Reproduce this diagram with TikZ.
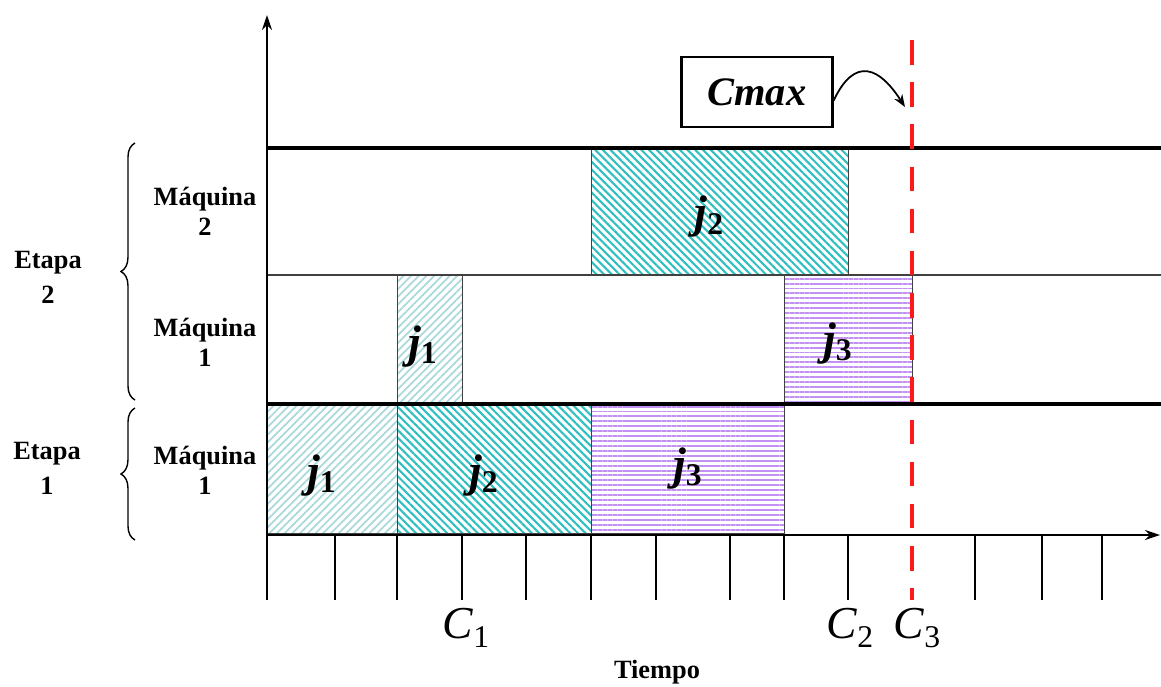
\documentclass[tikz,border=0pt]{standalone}
\usepackage{fontspec}
\setmainfont{Liberation Serif}
\usetikzlibrary{arrows.meta, decorations.pathreplacing, patterns.meta}
\definecolor{JobOne}{HTML}{A9D9DC}
\definecolor{JobTwo}{HTML}{2FBFC0}
\definecolor{JobThree}{HTML}{C291F2}
\definecolor{CmaxRed}{HTML}{FF1A1A}
\definecolor{Edge}{HTML}{404040}

\newcommand{\jlab}[1]{{\bfseries\itshape j}\raisebox{-0.3ex}{\bfseries\fontsize{18}{19}\selectfont #1}}
\newcommand{\clab}[1]{{\itshape C}\raisebox{-0.4ex}{\fontsize{18}{20}\selectfont #1}}

\begin{document}
\begin{tikzpicture}[
    x=0.02cm, y=-0.02cm,
    lbl/.style={font=\fontsize{15}{17}\selectfont\bfseries, align=center},
    etapa/.style={font=\fontsize{15}{20}\selectfont\bfseries, align=center},
    jtxt/.style={font=\fontsize{26}{28}\selectfont},
    ctxt/.style={font=\fontsize{26}{28}\selectfont},
    jobone/.style={draw=Edge, pattern={Lines[angle=45, distance=3.1pt, line width=1pt]},
        pattern color=JobOne},
    jobtwo/.style={draw=Edge, pattern={Lines[angle=-45, distance=3.1pt, line width=1.2pt]},
        pattern color=JobTwo},
    jobthree/.style={draw=Edge, pattern={Lines[angle=0, distance=2.8pt, line width=1.1pt]},
        pattern color=JobThree},
    axis/.style={line width=1.1pt, -{Stealth[length=3mm, width=2mm]}},
    tick/.style={line width=0.9pt},
    brc/.style={decorate, decoration={brace, amplitude=8pt}, line width=0.8pt},
    arr/.style={-{Stealth[length=2.5mm]}, line width=1pt},
]
\useasboundingbox (0,0) rectangle (1161,687);

% === Jobs, etapa 1 ===
\draw[jobone] (267,404) rectangle (397,533) node[midway, jtxt, xshift=-6pt, yshift=-4pt] (e1j1) {\jlab{1}};
\draw[jobtwo] (397,404) rectangle (591,533) node[midway, jtxt, xshift=-6pt, yshift=-4pt] (e1j2) {\jlab{2}};
\draw[jobthree] (591,404) rectangle (784,533) node[midway, jtxt] (e1j3) {\jlab{3}};

% === Jobs, etapa 2 ===
\draw[jobone] (397,275) rectangle (462,404) node[midway, jtxt, xshift=-4pt, yshift=-4pt] (e2j1) {\jlab{1}};
\draw[jobthree] (784,275) rectangle (912,404) node[midway, jtxt, xshift=-6pt, yshift=-2pt] (e2j3) {\jlab{3}};
\draw[jobtwo] (591,148) rectangle (848,275) node[midway, jtxt, xshift=-6pt, yshift=-3pt] (e2j2) {\jlab{2}};

% === Machine rows ===
\draw[line width=1.8pt] (267,148) -- (1161,148);
\draw[line width=0.8pt, Edge] (267,275) -- (1161,275);
\draw[line width=1.8pt] (267,404) -- (1161,404);

% === Axes and ticks ===
\draw[axis] (267,600) -- (267,15);
\draw[axis] (267,535) -- (1160,535);
\foreach \t in {335,397,462,526,591,656,730,784,848,975,1042,1102}
    \draw[tick] (\t,535) -- (\t,600);

\node[ctxt] (c1) at (466,628) {\clab{1}};
\node[ctxt] (c2) at (850,628) {\clab{2}};
\node[ctxt] (c3) at (917,628) {\clab{3}};
\node[lbl] (tiempo) at (657,672) {Tiempo};

% === Cmax ===
\coordinate (ctop) at (912,40);
\coordinate (cbot) at (912,600);
\draw[CmaxRed, line width=2.8pt, dash pattern=on 14pt off 10pt] (ctop) -- (cbot);

\node[draw, line width=1.2pt, minimum width=3.02cm, minimum height=1.4cm,
    font=\fontsize{23}{25}\selectfont\bfseries\itshape] (cmax) at (757,92) {Cmax};
\coordinate (cmaxtip) at (905,107);
\draw[arr] ([yshift=-5pt]cmax.east) .. controls (855,55) and (880,68) .. (cmaxtip);

% === Stage and machine labels ===
\node[lbl] (m22) at (205,211) {Máquina\\2};
\node[lbl] (m21) at (205,342) {Máquina\\1};
\node[lbl] (m11) at (205,470) {Máquina\\1};

\draw[brc] (135,400) -- (135,143) node[midway] (b2) {};
\draw[brc] (135,540) -- (135,408) node[midway] (b1) {};
\node[etapa] (etapa2) at (48,277) {Etapa\\2};
\node[etapa] (etapa1) at (47,468) {Etapa\\1};

\end{tikzpicture}
\end{document}
